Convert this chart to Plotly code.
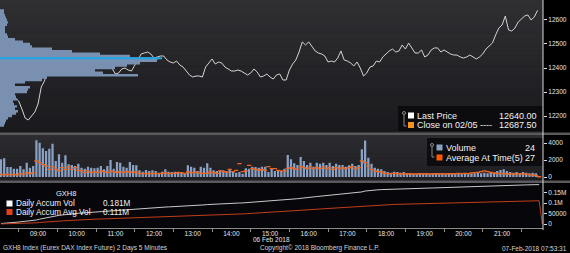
import numpy as np
import pandas as pd
import plotly.graph_objects as go

W, H = 570, 253
AX = 543  # right axis position (px)
FONT = "Liberation Sans, Arial, sans-serif"

# ---------------- data ----------------
prices = [
    12237.5, 12254, 12266.5, 12279, 12296, 12275, 12262.5, 12229, 12191.5, 12183.5,
    12200, 12216.5, 12250, 12321, 12346, 12387.5, 12404, 12400, 12391.5, 12441.5,
    12437.5, 12446, 12437.5, 12450, 12433.5, 12462.5, 12437.5, 12441.5, 12454, 12437.5,
    12433.5, 12437.5, 12446, 12437.5, 12421, 12396, 12375, 12379, 12396, 12400,
    12391.5, 12387.5, 12412.5, 12437.5, 12458.5, 12462.5, 12466.5, 12458.5, 12441.5, 12446,
    12450, 12450, 12433.5, 12425, 12421, 12429, 12412.5, 12404, 12387.5, 12371,
    12362.5, 12366.5, 12366.5, 12362.5, 12404, 12421, 12437.5, 12416.5, 12425, 12421,
    12404, 12396, 12387.5, 12387.5, 12391.5, 12387.5, 12379, 12371, 12379, 12396,
    12383.5, 12362.5, 12366.5, 12375, 12362.5, 12354, 12371, 12375, 12350, 12350,
    12391.5, 12416.5, 12433.5, 12466.5, 12508.5, 12496, 12508.5, 12487.5, 12471, 12462.5,
    12458.5, 12450, 12425, 12429, 12425, 12441.5, 12471, 12433.5, 12429, 12421,
    12408.5, 12425, 12400, 12366.5, 12379, 12404, 12408.5, 12429, 12425, 12446,
    12458.5, 12471, 12479, 12466.5, 12471, 12496, 12479, 12504, 12483.5, 12462.5,
    12462.5, 12475, 12446, 12454, 12475, 12483.5, 12483.5, 12466.5, 12475, 12466.5,
    12458.5, 12454, 12454, 12446, 12441.5, 12446, 12454, 12446, 12437.5, 12446,
    12458.5, 12479, 12491.5, 12504, 12537.5, 12566.5, 12579, 12616.5, 12558.5, 12554,
    12566.5, 12591.5, 12604, 12616.5, 12621, 12600, 12612.5, 12640,
]

volume = [
    2080, 2200, 1180, 1180, 980, 980, 1290, 900, 1690, 1100,
    1290, 4310, 4040, 3370, 3060, 3330, 3920, 1880, 2670, 1690,
    2550, 1490, 1410, 1290, 1570, 1100, 980, 1220, 1100, 1020,
    1100, 1290, 900, 1290, 2000, 980, 1760, 1690, 1220, 1100,
    1760, 1410, 1370, 780, 630, 820, 710, 780, 710, 510,
    630, 900, 630, 590, 630, 630, 590,
    510, 1370, 1220, 1100, 710, 1220, 1100, 1610, 1100, 780,
    710, 780, 780, 710, 900, 630, 510, 590, 390, 1020,
    980, 1220, 1180, 1100, 1220, 1220, 590, 980, 710, 710,
    710, 980, 2590, 2080, 1610, 1410, 2350, 1880, 1410, 1690,
    1220, 1690, 1570, 1690, 1410, 1690, 1290, 1570, 1410, 1410,
    1220, 1370, 1570, 1290, 1410, 3250,
    4300, 2270, 1570, 1100, 980, 900, 710, 590, 510, 630,
    590, 510, 590, 430, 430, 390, 390, 430, 430, 390,
    390, 430, 390, 430, 430, 390, 430, 430, 390, 430,
    430, 390, 430, 390, 430, 590, 430, 510, 430, 590,
    510, 710, 820, 900, 710, 590, 510, 590, 430, 590,
    510, 430, 510, 430, 24,
]

avg_at_time = [
    310, 240, 310, 240, 310, 240, 390, 310, 510, 390,
    510, 1880, 1690, 1490, 1290, 900, 1180, 900, 710, 1100,
    900, 1180, 900, 1100, 780, 710, 510, 710, 510, 630,
    510, 710, 630, 510, 710, 630, 510, 630, 510, 630,
    590, 510, 590, 390, 430, 390, 430, 390, 430, 390,
    430, 510, 390, 430, 430, 510, 510,
    390, 590, 510, 510, 590, 430, 430, 430, 590, 510,
    430, 710, 630, 590, 900, 630, 780, 1570, 630, 710,
    1370, 980, 900, 780, 900, 780, 1220, 980, 980, 780,
    710, 710, 1020, 1100, 980, 900, 1220, 1100, 980, 1180,
    980, 1100, 980, 1180, 980, 1100, 900, 1100, 980, 1100,
    980, 1100, 1220, 980, 1100, 1880,
    1690, 1290, 900, 710, 630, 590,
    430, 390, 390, 430, 390, 350, 390, 350, 390, 350,
    350, 390, 350, 390, 350, 350, 390, 350, 390, 350,
    390, 350, 390, 430, 390, 430, 390, 470, 510, 550,
    630, 710, 630, 550, 470, 390, 430, 390, 350, 390,
    350, 350, 390, 350, 310, 270, 230, 200, 27,
]

profile_price = [
    12640, 12630, 12620, 12610, 12600, 12590, 12580, 12570, 12560, 12550,
    12540, 12530, 12520, 12510, 12500, 12490, 12480, 12470, 12460, 12450,
    12440, 12430, 12420, 12410, 12400, 12390, 12380, 12370, 12360, 12350,
    12340, 12330, 12320, 12310, 12300, 12290, 12280, 12270, 12260, 12250,
    12240, 12230, 12220, 12210, 12200, 12190, 12180, 12170, 12160,
]
profile_volume = [
    120, 120, 150, 180, 210, 240, 210, 150, 150, 150,
    210, 240, 450, 690, 900, 960, 1560, 2160, 3000, 3900,
    4750, 4710, 4200, 3810, 3450, 2850, 3090, 4140, 1410, 1260,
    750, 450, 900, 840, 810, 450, 480, 510, 390, 420,
    510, 450, 540, 480, 360, 240, 180, 150, 120,
]
profile_bin = 10
poc_price = 12441
poc_volume = 4860

hour_labels = ["09:00", "10:00", "11:00", "12:00", "13:00", "14:00", "15:00",
               "16:00", "17:00", "18:00", "19:00", "20:00", "21:00"]
price_ticks = [12200, 12300, 12400, 12500, 12600]
vol_ticks = [0, 2000, 4000]
accum_ticks = [0, 50000, 100000, 150000]
accum_ticktext = ["0", "50000", "0.1M", "0.15M"]

last_price = "12640.00"
prev_close = "12687.50"
vol_last = "24"
avg_last = "27"
accum_vol_last = "0.181M"
accum_avg_last = "0.111M"

# ---------------- derived ----------------
day = pd.Timestamp("2018-02-06")
price_times = pd.date_range(day + pd.Timedelta(hours=8), periods=len(prices), freq="5min")
bar_times = price_times + pd.Timedelta(seconds=150)
accum_vol = np.cumsum(volume)
accum_avg = np.cumsum(avg_at_time)
hour_vals = [day + pd.Timedelta(hours=9 + i) for i in range(len(hour_labels))]
x_range = [day + pd.Timedelta(hours=8, minutes=1), day + pd.Timedelta(hours=22, minutes=3, seconds=30)]

# step outline of the volume-by-price profile
prof_x, prof_y = [0], [profile_price[0] + profile_bin / 2]
for p, v in zip(profile_price, profile_volume):
    prof_x += [v, v]
    prof_y += [p + profile_bin / 2, p - profile_bin / 2]
prof_x.append(0)
prof_y.append(profile_price[-1] - profile_bin / 2)


def px(x):
    return x / W


def py(y):
    return 1 - y / H


fig = go.Figure()

# volume profile (left histogram)
fig.add_trace(go.Scatter(
    x=prof_x, y=prof_y, mode="lines", fill="toself", fillcolor="#7990b1",
    line=dict(width=0, color="#7990b1"), xaxis="x2", yaxis="y", hoverinfo="skip"))
fig.add_trace(go.Scatter(
    x=[0, poc_volume], y=[poc_price, poc_price], mode="lines",
    line=dict(color="#1ea6e6", width=2), xaxis="x2", yaxis="y", hoverinfo="skip"))
# price line
fig.add_trace(go.Scatter(
    x=price_times, y=prices, mode="lines",
    line=dict(color="#d4d4d4", width=1), xaxis="x", yaxis="y"))
# volume bars
fig.add_trace(go.Bar(
    x=bar_times, y=volume, width=210000,
    marker=dict(color="#8aa1c3", line=dict(width=0)),
    xaxis="x", yaxis="y3"))
fig.add_trace(go.Scatter(
    x=bar_times, y=avg_at_time, mode="markers",
    marker=dict(symbol="line-ew", size=3, line=dict(color="#ee641c", width=1.3)),
    xaxis="x", yaxis="y3"))
# accumulated volume
fig.add_trace(go.Scatter(
    x=bar_times, y=accum_vol, mode="lines",
    line=dict(color="#c9c9c9", width=1), xaxis="x", yaxis="y4"))
fig.add_trace(go.Scatter(
    x=list(bar_times) + [bar_times[-1] + pd.Timedelta(minutes=5)],
    y=list(accum_avg) + [0], mode="lines",
    line=dict(color="#c23e1a", width=1), xaxis="x", yaxis="y4"))

shapes = []


def rect(x0, y0, x1, y1, color, layer="below"):
    shapes.append(dict(type="rect", xref="paper", yref="paper",
                       x0=px(x0), x1=px(x1), y0=py(y1), y1=py(y0),
                       fillcolor=color, line=dict(width=0), layer=layer))


def gradient(y0, y1, c0, c1, n=24):
    h = (y1 - y0) / n
    for i in range(n):
        t = i / (n - 1)
        c = tuple(int(round(a + (b - a) * t)) for a, b in zip(c0, c1))
        rect(0, y0 + i * h, AX, y0 + (i + 1) * h + 0.6, "rgb(%d,%d,%d)" % c)


gradient(0, 132.5, (47, 47, 50), (26, 26, 30))
gradient(135, 180.5, (44, 44, 48), (30, 30, 34), n=10)
rect(0, 183, AX, 227.5, "#07070b")
rect(0, 132.5, W, 135, "#5a5a5c")
rect(0, 180.5, W, 183, "#5a5a5c")

# legend boxes
rect(398, 106, AX, 131, "rgba(12,12,15,0.95)", layer="above")
rect(427, 138, AX, 166, "rgba(12,12,15,0.95)", layer="above")
# legend swatches
rect(408, 112.5, 414, 118.5, "#ffffff", layer="above")
rect(408, 122, 414, 128, "#f7931e", layer="above")
rect(436.5, 144.5, 442.5, 150.5, "#8aa1c3", layer="above")
rect(436.5, 154.5, 442.5, 160.5, "#ff5a00", layer="above")
rect(6.5, 200.5, 12.5, 206.5, "#ffffff", layer="above")
rect(6.5, 209, 12.5, 215, "#e0401a", layer="above")

# legend pin icons
for (xi, ya, yb) in [(404, 113, 126), (432, 145, 157)]:
    shapes.append(dict(type="circle", xref="paper", yref="paper",
                       x0=px(xi - 1.5), x1=px(xi + 1.5), y0=py(ya + 1.5), y1=py(ya - 1.5),
                       line=dict(color="#8a8a8a", width=1), layer="above"))
    shapes.append(dict(type="line", xref="paper", yref="paper",
                       x0=px(xi), x1=px(xi), y0=py(ya + 1.5), y1=py(yb),
                       line=dict(color="#8a8a8a", width=1), layer="above"))
    shapes.append(dict(type="line", xref="paper", yref="paper",
                       x0=px(xi), x1=px(xi + 2.5), y0=py(yb), y1=py(yb),
                       line=dict(color="#8a8a8a", width=1), layer="above"))

# right axis line
shapes.append(dict(type="line", xref="paper", yref="paper",
                   x0=px(AX), x1=px(AX), y0=py(230), y1=1,
                   line=dict(color="#d8d8d8", width=1), layer="above"))

ann = []


def txt(x, y, s, size=9, anchor="left", color="#f2f2f2"):
    ann.append(dict(x=px(x), y=py(y), xref="paper", yref="paper", text=s,
                    showarrow=False, xanchor=anchor, yanchor="middle",
                    font=dict(size=size, color=color, family=FONT)))


txt(415, 115.5, "Last Price")
txt(539, 115.5, last_price, anchor="right")
txt(415, 125, "Close on 02/05 ----")
txt(539, 125, prev_close, anchor="right")
txt(444, 147.5, "Volume")
txt(537, 147.5, vol_last, anchor="right")
txt(444, 157.5, "Average At Time(5)")
txt(537, 157.5, avg_last, anchor="right")
txt(66, 193, "GXH8", size=7.5, anchor="center")
txt(13.5, 203.5, "Daily Accum Vol", size=8.2)
txt(101, 203.5, accum_vol_last, size=8.2)
txt(13.5, 212, "Daily Accum Avg Vol", size=8.2)
txt(101, 212, accum_avg_last, size=8.2)
txt(271, 239.5, "06 Feb 2018", size=6.5, anchor="center", color="#e6e6e6")
txt(1, 248, "GXH8 Index (Eurex DAX Index Future) 2 Days 5 Minutes", size=6.5, color="#d6d6d6")
txt(320, 248, "Copyright\u00a9 2018 Bloomberg Finance L.P.", size=6.5, anchor="center", color="#d6d6d6")
txt(569, 248, "07-Feb-2018 07:53:31", size=6.5, anchor="right", color="#d6d6d6")

yax_common = dict(side="right", anchor="x", showgrid=False, zeroline=False,
                  ticks="outside", ticklen=3, tickwidth=1, tickcolor="#d8d8d8",
                  tickfont=dict(size=6.5, color="#e6e6e6", family=FONT),
                  showline=False, fixedrange=True)

fig.update_layout(
    width=W, height=H, margin=dict(l=0, r=0, t=0, b=0),
    paper_bgcolor="#000000", plot_bgcolor="rgba(0,0,0,0)",
    showlegend=False, barmode="overlay",
    xaxis=dict(domain=[0, px(AX)], range=x_range, anchor="y4", type="date",
               tickmode="array", tickvals=hour_vals, ticktext=hour_labels,
               ticks="", showgrid=False, zeroline=False,
               showline=True, linecolor="#8c8c8c", linewidth=1,
               tickfont=dict(size=6.5, color="#e6e6e6", family=FONT),
               minor=dict(tick0=day + pd.Timedelta(hours=8, minutes=30), dtick=3600000,
                          ticks="outside", ticklen=3, tickcolor="#8c8c8c", showgrid=False)),
    xaxis2=dict(domain=[0, px(AX)], range=[0, AX * 30], overlaying="x", anchor="y",
                visible=False),
    yaxis=dict(domain=[py(132.5), 1], range=[12131.25, 12683.3],
               tickvals=price_ticks, ticktext=[str(v) for v in price_ticks], **yax_common),
    yaxis3=dict(domain=[py(180.5), py(135)], range=[-412, 4941],
                tickvals=vol_ticks, ticktext=[str(v) for v in vol_ticks], **yax_common),
    yaxis4=dict(domain=[py(227.5), py(183)], range=[-16800, 196500],
                tickvals=accum_ticks, ticktext=accum_ticktext, **yax_common),
    shapes=shapes, annotations=ann,
)

fig.write_html("out.html")
